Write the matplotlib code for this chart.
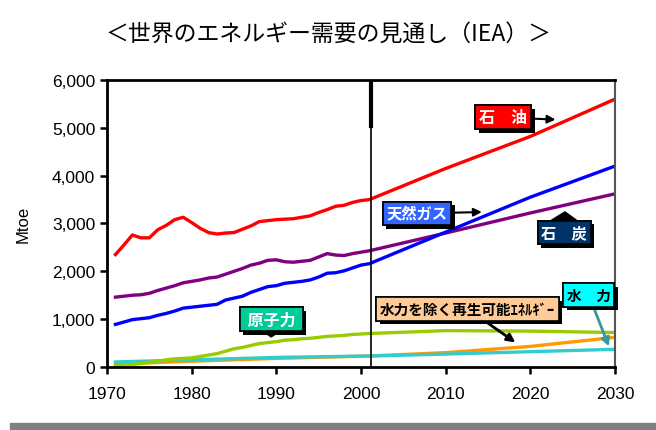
import matplotlib
matplotlib.use('Agg')
import matplotlib.pyplot as plt
import matplotlib.patheffects as pe
from matplotlib.patches import Rectangle
from matplotlib.ticker import FuncFormatter

plt.rcParams['font.family'] = ['Liberation Sans', 'Noto Sans CJK JP', 'DejaVu Sans']
JP = ['Noto Sans CJK JP', 'DejaVu Sans']

# historical (1971-2001) and projections (2010, 2020, 2030), Mtoe
years = list(range(1971, 2002)) + [2010, 2020, 2030]

oil = [2350, 2550, 2760, 2700, 2700, 2870, 2960, 3080, 3130, 3020,
       2900, 2810, 2780, 2800, 2810, 2880, 2950, 3040, 3060, 3080,
       3090, 3100, 3130, 3160, 3230, 3290, 3360, 3380, 3440, 3480,
       3500, 4150, 4820, 5600]
gas = [890, 940, 990, 1010, 1030, 1080, 1120, 1170, 1230, 1250,
       1270, 1290, 1310, 1400, 1440, 1480, 1560, 1620, 1680, 1700,
       1750, 1770, 1790, 1820, 1880, 1960, 1970, 2010, 2070, 2130,
       2160, 2820, 3550, 4200]
coal = [1460, 1480, 1500, 1510, 1540, 1600, 1650, 1700, 1760, 1790,
        1820, 1860, 1880, 1940, 2000, 2060, 2130, 2170, 2230, 2240,
        2200, 2190, 2210, 2230, 2300, 2370, 2340, 2330, 2370, 2400,
        2430, 2800, 3220, 3620]
nuclear = [30, 40, 55, 70, 100, 120, 150, 170, 180, 190,
           220, 250, 280, 330, 380, 410, 450, 490, 510, 530,
           560, 570, 590, 600, 620, 640, 650, 660, 680, 690,
           700, 760, 750, 720]

# hydro and other renewables, fewer points
ren_years = [1971, 1980, 1990, 2001, 2010, 2020, 2030]
hydro = [105, 150, 200, 230, 270, 320, 370]
renew = [60, 120, 180, 230, 300, 430, 620]

xticks = [1970, 1980, 1990, 2000, 2010, 2020, 2030]
yticks = [0, 1000, 2000, 3000, 4000, 5000, 6000]

fig = plt.figure(figsize=(6.56, 4.31), dpi=100)
ax = fig.add_axes([0.1631, 0.1462, 0.7744, 0.6659])

ax.plot(ren_years, renew, color='#FF9900', lw=2.4)
ax.plot(ren_years, hydro, color='#33CCCC', lw=2.4)
ax.plot(years, nuclear, color='#99CC00', lw=2.4)
ax.plot(years, coal, color='#800080', lw=2.4)
ax.plot(years, gas, color='#0000FF', lw=2.4)
ax.plot(years, oil, color='#FF0000', lw=2.4)

# base year marker
ax.axvline(2001.2, color='k', lw=1.2)
ax.plot([2001.2, 2001.2], [5040, 6000], color='k', lw=3)

ax.set_xlim(1970, 2030)
ax.set_ylim(0, 6000)
ax.set_xticks(xticks)
ax.set_yticks(yticks)
ax.yaxis.set_major_formatter(FuncFormatter(lambda v, p: '{:,}'.format(int(v))))
ax.tick_params(axis='both', direction='out', length=5, width=1.8, labelsize=12.5)
ax.tick_params(axis='x', pad=9)
for s in ['left', 'bottom', 'top']:
    ax.spines[s].set_linewidth(2)
ax.spines['right'].set_linewidth(1.5)
ax.spines['right'].set_color('#555555')
ax.set_ylabel('Mtoe', fontsize=12, labelpad=15)


def label(text, xy, xytext, fc, tc, arrow, size=10.5):
    a = ax.annotate(text, xy=xy, xytext=xytext, ha='center', va='center',
                    fontsize=size, color=tc, weight='bold', family=JP,
                    bbox=dict(boxstyle='square,pad=0.25', fc=fc, ec='k', lw=1.2),
                    arrowprops=arrow)
    a.get_bbox_patch().set_path_effects(
        [pe.withSimplePatchShadow(offset=(2.5, -2.5), shadow_rgbFace='k', alpha=1.0),
         pe.Normal()])
    return a


thin = dict(arrowstyle='-|>', color='k', lw=1.5, mutation_scale=12)
block = dict(arrowstyle='simple,head_width=2.4,head_length=0.8,tail_width=0.8',
             color='k', mutation_scale=10, shrinkA=0)

label('石　油', (2023.3, 5170), (2016.8, 5217), '#FF0000', 'white', thin, size=11.5)
label('天然ガス', (2014.6, 3240), (2006.6, 3210), '#3366FF', 'white', thin, size=11)
label('石　炭', (2024.1, 3300), (2024.0, 2812), '#003366', 'white', block, size=11)
label(' 原子力 ', (1989.4, 570), (1989.4, 993), '#00CC99', 'white', block, size=11.5)
label('水力を除く再生可能ｴﾈﾙｷﾞｰ', (2018.5, 481), (2012.6, 1213), '#FFCC99', 'k',
      dict(arrowstyle='-|>', color='k', lw=2, mutation_scale=12), size=10.5)
label('水　力', (2029.4, 376), (2026.9, 1505), '#00FFFF', 'k',
      dict(arrowstyle='-|>', color='#339999', lw=2, mutation_scale=12))

fig.text(0.5015, 0.921, '＜世界のエネルギー需要の見通し（IEA）＞', ha='center', va='center',
         fontsize=16.5, family=JP)

# grey strip along the bottom edge
fig.patches.append(Rectangle((0.015, 0), 0.985, 0.016, transform=fig.transFigure,
                             color='#808080', zorder=0))

plt.savefig('out.png', dpi=100)
